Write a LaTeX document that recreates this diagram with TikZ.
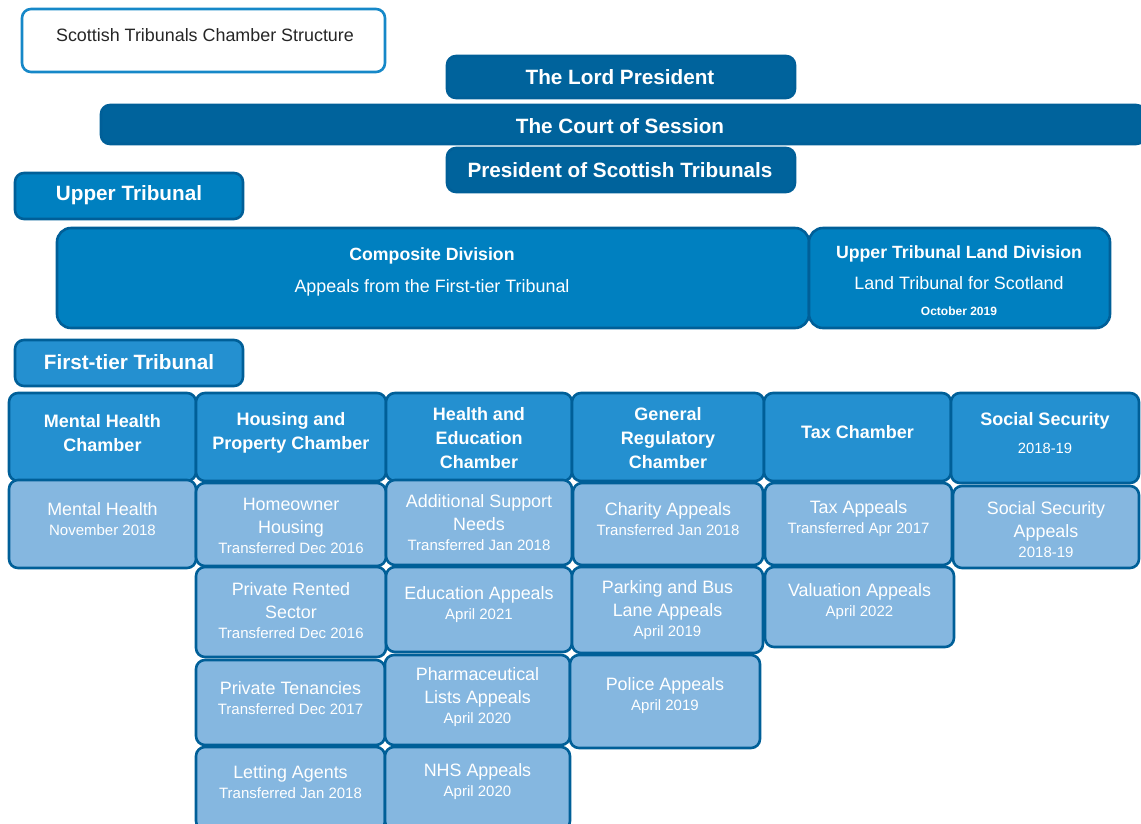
\documentclass[tikz,border=0pt]{standalone}
\usepackage{fontspec}
\setmainfont{Liberation Sans}
\usetikzlibrary{fit}
\definecolor{court}{RGB}{0,99,156}
\definecolor{upperblue}{RGB}{0,128,192}
\definecolor{hdrblue}{RGB}{36,144,208}
\definecolor{subblue}{RGB}{133,183,224}
\definecolor{edge}{RGB}{0,95,152}
\definecolor{titleedge}{RGB}{22,136,200}
\newcommand{\datefont}{\fontsize{15}{17}\selectfont}
\newcommand{\hdrdate}{\mdseries\fontsize{14.8}{17}\selectfont}
\tikzset{
  box/.style={draw=edge, line width=2.6pt, rounded corners=9pt, inner sep=0pt},
  topbox/.style={box, fill=court},
  upperbox/.style={box, fill=upperblue},
  hdrbox/.style={box, fill=hdrblue},
  subbox/.style={box, fill=subblue},
  toptxt/.style={text=white, font=\bfseries\fontsize{20.7}{23}\selectfont},
  hdrtxt/.style={text=white, align=center, font=\bfseries\fontsize{18}{24}\selectfont},
  subtxt/.style={text=white, align=center, font=\fontsize{17.9}{23}\selectfont}
}
\begin{document}
\begin{tikzpicture}[x=1pt, y=-1pt]
\useasboundingbox (0,0) rectangle (1141,823);
% title
\node[box, draw=titleedge, fill=white, fit={(22,9) (385,72)}] (title) {};
\node[font=\fontsize{17.9}{20}\selectfont, text=black!85] (title-t) at (205,35)
 {Scottish Tribunals Chamber Structure};
% court of session and presidents
\node[topbox, fit={(101,105) (1145,144)}] (cos) {};
\node[toptxt] (cos-t) at (620,126) {The Court of Session};
\node[topbox, fit={(447,56) (795,98)}] (lp) {};
\node[toptxt] (lp-t) at (620,77) {The Lord President};
\node[topbox, fit={(447,148) (795,192)}] (pst) {};
\node[toptxt] (pst-t) at (620,170) {President of Scottish Tribunals};
% upper tribunal
\node[upperbox, fit={(15,173) (243,219)}] (ut) {};
\node[toptxt] (ut-t) at (129,195) {Upper Tribunal};
\node[upperbox, rounded corners=14pt, fit={(57,228) (809,328)}] (cd) {};
\node[subtxt] (cd-t) at (432,272)
 {{\bfseries\fontsize{17.7}{20}\selectfont Composite Division}\\[9pt]Appeals from the First-tier Tribunal};
\node[upperbox, rounded corners=14pt, fit={(809,228) (1110,328)}] (utl) {};
\node[subtxt] (utl-t) at (959,281)
 {{\bfseries\fontsize{17.7}{20}\selectfont Upper Tribunal Land Division}\\[8pt]Land Tribunal for Scotland\\[3pt]{\bfseries\fontsize{12}{14}\selectfont October 2019}};
% first-tier tribunal
\node[hdrbox, fit={(15,340) (243,386)}] (ftt) {};
\node[toptxt] (ftt-t) at (129,362) {First-tier Tribunal};
% chambers
\foreach \nm/\xa/\ya/\xb/\yb/\ty/\txt in {
  mhc/9/393/196/481/433/{Mental Health\\Chamber},
  hpc/196/393/386/481/433/{Housing and\\Property Chamber},
  hec/386/393/572/481/438/{Health and\\Education\\Chamber},
  grc/572/393/764/481/438/{General\\Regulatory\\Chamber},
  txc/764/393/951/481/432/{Tax Chamber},
  ssc/951/393/1139/483/433/{Social Security\\[4pt]{\hdrdate 2018-19}}}
{
  \node[hdrbox, fit={(\xa,\ya) (\xb,\yb)}] (\nm) {};
  \node[hdrtxt] (\nm-t) at ({(\xa+\xb)/2},\ty) {\txt};
}
% jurisdictions
\foreach \nm/\xa/\ya/\xb/\yb/\ty/\txt/\when in {
  mh/9/480/196/568/519/{Mental Health}/{November 2018},
  hh/196/483/386/566/526/{Homeowner\\Housing}/{Transferred Dec 2016},
  prs/196/567/386/657/611/{Private Rented\\Sector}/{Transferred Dec 2016},
  pt/196/660/385/745/698/{Private Tenancies}/{Transferred Dec 2017},
  la/196/747/385/830/782/{Letting Agents}/{Transferred Jan 2018},
  asn/386/480/572/565/523/{Additional Support\\Needs}/{Transferred Jan 2018},
  ea/386/567/572/652/605/{Education Appeals}/{April 2021},
  pla/385/655/570/745/697/{Pharmaceutical\\Lists Appeals}/{April 2020},
  nhs/385/747/570/830/782/{NHS Appeals}/{April 2020},
  ca/573/483/763/565/519/{Charity Appeals}/{Transferred Jan 2018},
  pbl/572/567/763/653/610/{Parking and Bus\\Lane Appeals}/{April 2019},
  pa/570/655/760/748/696/{Police Appeals}/{April 2019},
  ta/765/483/952/565/519/{Tax Appeals}/{Transferred Apr 2017},
  va/765/567/954/647/602/{Valuation Appeals}/{April 2022},
  ssa/953/486/1139/568/530/{Social Security\\Appeals}/{2018-19}}
{
  \node[subbox, fit={(\xa,\ya) (\xb,\yb)}] (\nm) {};
  \node[subtxt] (\nm-t) at ({(\xa+\xb)/2},\ty) {\txt\\[-3pt]{\datefont\when}};
}
\end{tikzpicture}
\end{document}
